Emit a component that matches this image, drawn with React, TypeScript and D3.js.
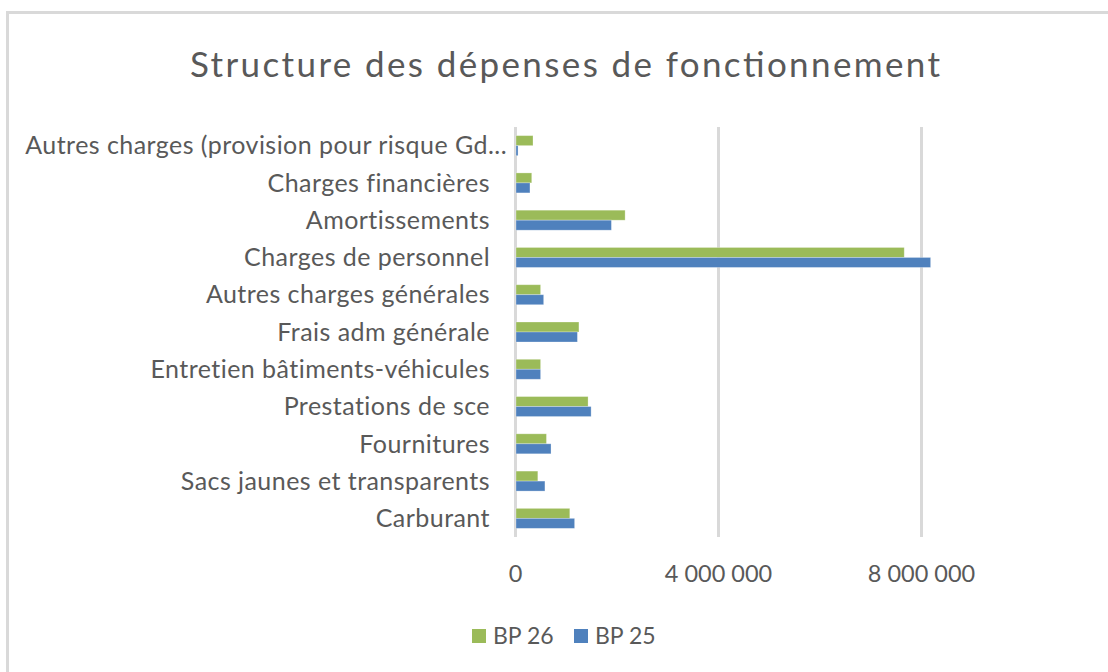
import React from "react";
import * as d3 from "d3";

// categories in Excel order (bottom of the chart first)
const categories = [
  "Carburant",
  "Sacs jaunes et transparents",
  "Fournitures",
  "Prestations de sce",
  "Entretien bâtiments-véhicules",
  "Frais adm générale",
  "Autres charges générales",
  "Charges de personnel",
  "Amortissements",
  "Charges financières",
  "Autres charges (provision pour risque Gd...",
];
const bp26 = [1060000, 430000, 600000, 1420000, 485000, 1240000, 485000, 7650000, 2150000, 310000, 335000];
const bp25 = [1155000, 570000, 690000, 1480000, 485000, 1210000, 545000, 8170000, 1880000, 275000, 40000];
const seriesNames = ["BP 26", "BP 25"];
const seriesColors = ["#9BBB59", "#4F81BD"];
const xTicks = [0, 4000000, 8000000];

const W = 1108;
const H = 672;
const FONT = "Lato, 'Open Sans', sans-serif";
const TXT = "#595959";

const fr = d3.formatLocale({ decimal: ",", thousands: " ", grouping: [3], currency: ["", " €"] });
const fmt = fr.format(",");

export default function App() {
  const x = d3.scaleLinear().domain([0, 8000000]).range([515.5, 921.5]);
  const y = d3
    .scaleBand<string>()
    .domain([...categories].reverse())
    .range([127, 537]);
  const inner = d3
    .scaleBand<string>()
    .domain(seriesNames)
    .range([0, y.bandwidth()])
    .paddingOuter(0.865);
  const series = [bp26, bp25];

  return (
    <svg width={W} height={H} style={{ position: "absolute", left: 0, top: 0, background: "#fff" }}>
      <rect x={7.5} y={12.5} width={W + 20} height={H + 20} fill="#fff" stroke="#D9D9D9" strokeWidth={3} />
      <text
        x={190}
        y={77}
        fontFamily={FONT}
        fontSize={35}
        fill={TXT}
        textLength={750}
        lengthAdjust="spacing"
      >
        Structure des dépenses de fonctionnement
      </text>

      {/* gridlines */}
      {xTicks.map((t) => (
        <line key={t} x1={x(t)} x2={x(t)} y1={127} y2={537} stroke="#D9D9D9" strokeWidth={3} />
      ))}

      {/* bars */}
      {series.map((vals, si) =>
        categories.map((c, i) => (
          <rect
            key={c + si}
            x={x(0) + 0.5}
            y={(y(c) as number) + (inner(seriesNames[si]) as number)}
            width={Math.max(2, x(vals[i]) - x(0))}
            height={inner.bandwidth()}
            fill={seriesColors[si]}
            stroke="rgba(255,255,255,0.35)"
            strokeWidth={0.8}
          />
        ))
      )}

      {/* category labels */}
      {categories.map((c, i) => (
        <text
          key={c}
          x={i === categories.length - 1 ? 507 : 490}
          y={(y(c) as number) + y.bandwidth() / 2}
          dy="0.35em"
          textAnchor="end"
          fontFamily={FONT}
          fontSize={25}
          letterSpacing={0.45}
          fill={TXT}
        >
          {c}
        </text>
      ))}

      {/* x tick labels */}
      {xTicks.map((t) => (
        <text key={"t" + t} x={x(t)} y={582} textAnchor="middle" fontFamily={FONT} fontSize={23.5} fill={TXT}>
          {fmt(t)}
        </text>
      ))}

      {/* legend */}
      {seriesNames.map((s, i) => {
        const lx = 472 + i * 102;
        return (
          <g key={s}>
            <rect x={lx} y={629} width={14} height={14} fill={seriesColors[i]} />
            <text x={lx + 21} y={644} fontFamily={FONT} fontSize={23} fill={TXT}>
              {s}
            </text>
          </g>
        );
      })}
    </svg>
  );
}
